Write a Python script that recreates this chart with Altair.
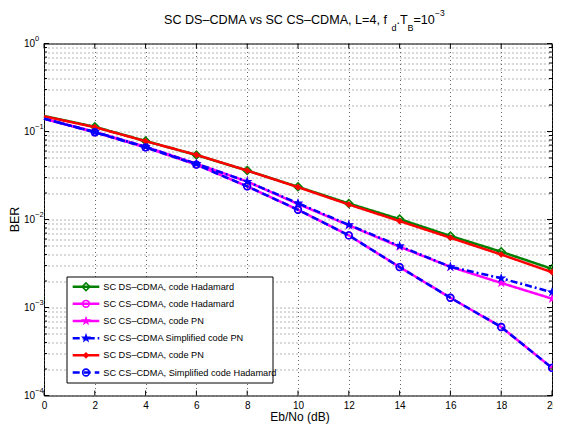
import altair as alt
import pandas as pd

# ---------------- data ----------------
snr = [0, 2, 4, 6, 8, 10, 12, 14, 16, 18, 20]
ber_ds_had = [0.150, 0.113, 0.078, 0.054, 0.036, 0.0235, 0.0152, 0.0101, 0.0065, 0.0043, 0.00275]
ber_cs_had = [0.140, 0.098, 0.066, 0.042, 0.0238, 0.0129, 0.0066, 0.00288, 0.00129, 0.00060, 0.000206]
ber_cs_pn = [0.140, 0.099, 0.067, 0.043, 0.027, 0.0150, 0.0086, 0.0049, 0.0029, 0.0019, 0.00126]
ber_simp_pn = [0.140, 0.099, 0.067, 0.043, 0.027, 0.0153, 0.0087, 0.0050, 0.0029, 0.00215, 0.00149]
ber_ds_pn = [0.149, 0.112, 0.0776, 0.0543, 0.036, 0.0233, 0.0148, 0.0096, 0.0062, 0.0040, 0.00252]
ber_simp_had = [0.140, 0.098, 0.066, 0.042, 0.0238, 0.0129, 0.0066, 0.00288, 0.00129, 0.00060, 0.000206]

series_names = [
    "SC DS\u2013CDMA, code Hadamard",
    "SC CS\u2013CDMA, code Hadamard",
    "SC CS\u2013CDMA, code PN",
    "SC CS\u2013CDMA Simplified code PN",
    "SC DS\u2013CDMA, code PN",
    "SC CS\u2013CDMA, Simplified code Hadamard",
]
series_values = [ber_ds_had, ber_cs_had, ber_cs_pn, ber_simp_pn, ber_ds_pn, ber_simp_had]

x_ticks = [0, 2, 4, 6, 8, 10, 12, 14, 16, 18, 20]
y_decades = [1e-4, 1e-3, 1e-2, 1e-1, 1e0]
y_exponents = ["\u22124", "\u22123", "\u22122", "\u22121", "0"]
y_minor = [m * d for d in [1e-4, 1e-3, 1e-2, 1e-1] for m in range(2, 10)]

# ---------------- styling ----------------
W, H = 508, 352
FONT = "Liberation Sans, Arial, Helvetica, sans-serif"
STAR = ("M0,-1L0.2245,-0.309L0.9511,-0.309L0.3633,0.118L0.5878,0.809L0,0.382"
        "L-0.5878,0.809L-0.3633,0.118L-0.9511,-0.309L-0.2245,-0.309Z")
styles = [
    dict(color="#008000", dash=[1, 0], shape="diamond", filled=False, size=60),
    dict(color="#ff00ff", dash=[1, 0], shape="circle", filled=False, size=45),
    dict(color="#ff00ff", dash=[1, 0], shape=STAR, filled=True, size=115),
    dict(color="#0000ff", dash=[7, 3, 2, 3], shape=STAR, filled=True, size=115),
    dict(color="#ff0000", dash=[1, 0], shape="diamond", filled=True, size=45),
    dict(color="#0000ff", dash=[7, 4], shape="circle", filled=False, size=45),
]

xscale = alt.Scale(domain=[0, 20], nice=False, zero=False)
yscale = alt.Scale(type="log", domain=[1e-4, 1], nice=False)

X = alt.X("snr:Q", scale=xscale,
          axis=alt.Axis(values=x_ticks, title=None, grid=True, labelFlush=False,
                        gridDash=[1, 3], gridColor="#444", gridOpacity=0.8,
                        ticks=False, domain=False, labelFont=FONT, labelFontSize=10,
                        labelColor="#000", labelPadding=4.5))
Y = alt.Y("ber:Q", scale=yscale,
          axis=alt.Axis(values=y_decades + y_minor, title=None, grid=True,
                        gridDash=[1, 3], gridColor="#444", gridOpacity=0.8,
                        ticks=False, domain=False, labels=False))

one = pd.DataFrame({"k": [0]})
layers = []

# data series (markers from 2 dB on, as in the reference)
for name, vals, st in zip(series_names, series_values, styles):
    df = pd.DataFrame({"snr": snr, "ber": vals, "series": name})
    base = alt.Chart(df)
    layers.append(base.mark_line(color=st["color"], strokeWidth=2.5,
                                 strokeDash=st["dash"]).encode(x=X, y=Y))
    layers.append(base.transform_filter("datum.snr > 0").mark_point(
        shape=st["shape"], filled=st["filled"], color=st["color"], size=st["size"],
        strokeWidth=1.6, opacity=1).encode(x=X, y=Y))

# inward ticks
xt = pd.DataFrame({"snr": x_ticks})
for y0, y1 in [(H, H - 5), (0, 5)]:
    layers.append(alt.Chart(xt).mark_rule(color="#000", strokeWidth=1).encode(
        x=alt.X("snr:Q", scale=xscale), y=alt.value(y0), y2=alt.value(y1)))
yd = pd.DataFrame({"ber": y_decades, "exp": y_exponents})
ym = pd.DataFrame({"ber": y_minor})
for x0, x1, d in [(0, 5, yd), (W, W - 5, yd), (0, 3, ym), (W, W - 3, ym)]:
    layers.append(alt.Chart(d).mark_rule(color="#000", strokeWidth=1).encode(
        y=alt.Y("ber:Q", scale=yscale), x=alt.value(x0), x2=alt.value(x1)))

# y tick labels 10^n
layers.append(alt.Chart(yd).mark_text(align="right", baseline="middle", font=FONT,
                                      fontSize=10, color="#000").encode(
    y=alt.Y("ber:Q", scale=yscale), x=alt.value(-9), text=alt.value("10")))
layers.append(alt.Chart(yd).mark_text(align="left", baseline="middle", font=FONT,
                                      fontSize=7.5, color="#000", dy=-5).encode(
    y=alt.Y("ber:Q", scale=yscale), x=alt.value(-9), text="exp:N"))

# axis titles
layers.append(alt.Chart(one).mark_text(angle=270, font=FONT, fontSize=12.5,
                                       color="#000", baseline="alphabetic").encode(
    x=alt.value(-25), y=alt.value(H / 2), text=alt.value("BER")))
layers.append(alt.Chart(one).mark_text(font=FONT, fontSize=12, color="#000",
                                       align="center", baseline="alphabetic").encode(
    x=alt.value(256), y=alt.value(377.8), text=alt.value("Eb/No (dB)")))

# title pieces (main, subscripts, superscript)
title_parts = [
    ("SC DS\u2013CDMA vs SC CS\u2013CDMA, L=4,  f", 120, -19.5, 12.6),
    ("d", 347.5, -12.5, 9),
    (".T", 352.5, -19.5, 12.6),
    ("B", 363.5, -12.5, 9),
    ("=10", 369.5, -19.5, 12.6),
    ("\u22123", 391, -27.5, 8.5),
]
for txt, tx, ty, fs in title_parts:
    layers.append(alt.Chart(one).mark_text(align="left", baseline="alphabetic",
                                           font=FONT, fontSize=fs, color="#000").encode(
        x=alt.value(tx), y=alt.value(ty), text=alt.value(txt)))

# legend
LX0, LX1, LY0, LY1 = 23, 229, 233.5, 339.5
layers.append(alt.Chart(one).mark_rect(fill="#fff", stroke="#000", strokeWidth=1).encode(
    x=alt.value(LX0), x2=alt.value(LX1), y=alt.value(LY0), y2=alt.value(LY1)))
row_y = [243.2, 260.3, 277.5, 294.7, 311.8, 329.0]
for name, st, ry in zip(series_names, styles, row_y):
    layers.append(alt.Chart(one).mark_rule(color=st["color"], strokeWidth=2.5,
                                           strokeDash=st["dash"]).encode(
        x=alt.value(28.7), x2=alt.value(55.3), y=alt.value(ry)))
    layers.append(alt.Chart(one).mark_point(shape=st["shape"], filled=st["filled"],
                                            color=st["color"], size=st["size"],
                                            strokeWidth=1.6, opacity=1).encode(
        x=alt.value(42), y=alt.value(ry)))
    layers.append(alt.Chart(one).mark_text(align="left", baseline="middle", font=FONT,
                                           fontSize=9.2, color="#000").encode(
        x=alt.value(59.3), y=alt.value(ry), text=alt.value(name)))

chart = alt.layer(*layers).properties(
    width=W, height=H,
    autosize=alt.AutoSizeParams(type="none"),
    padding={"left": 36, "top": 35.5, "right": 1, "bottom": 28},
    background="#ffffff",
).configure_view(stroke="#000", strokeWidth=1)

chart.save("out.html", embed_options={"renderer": "svg", "actions": False})
